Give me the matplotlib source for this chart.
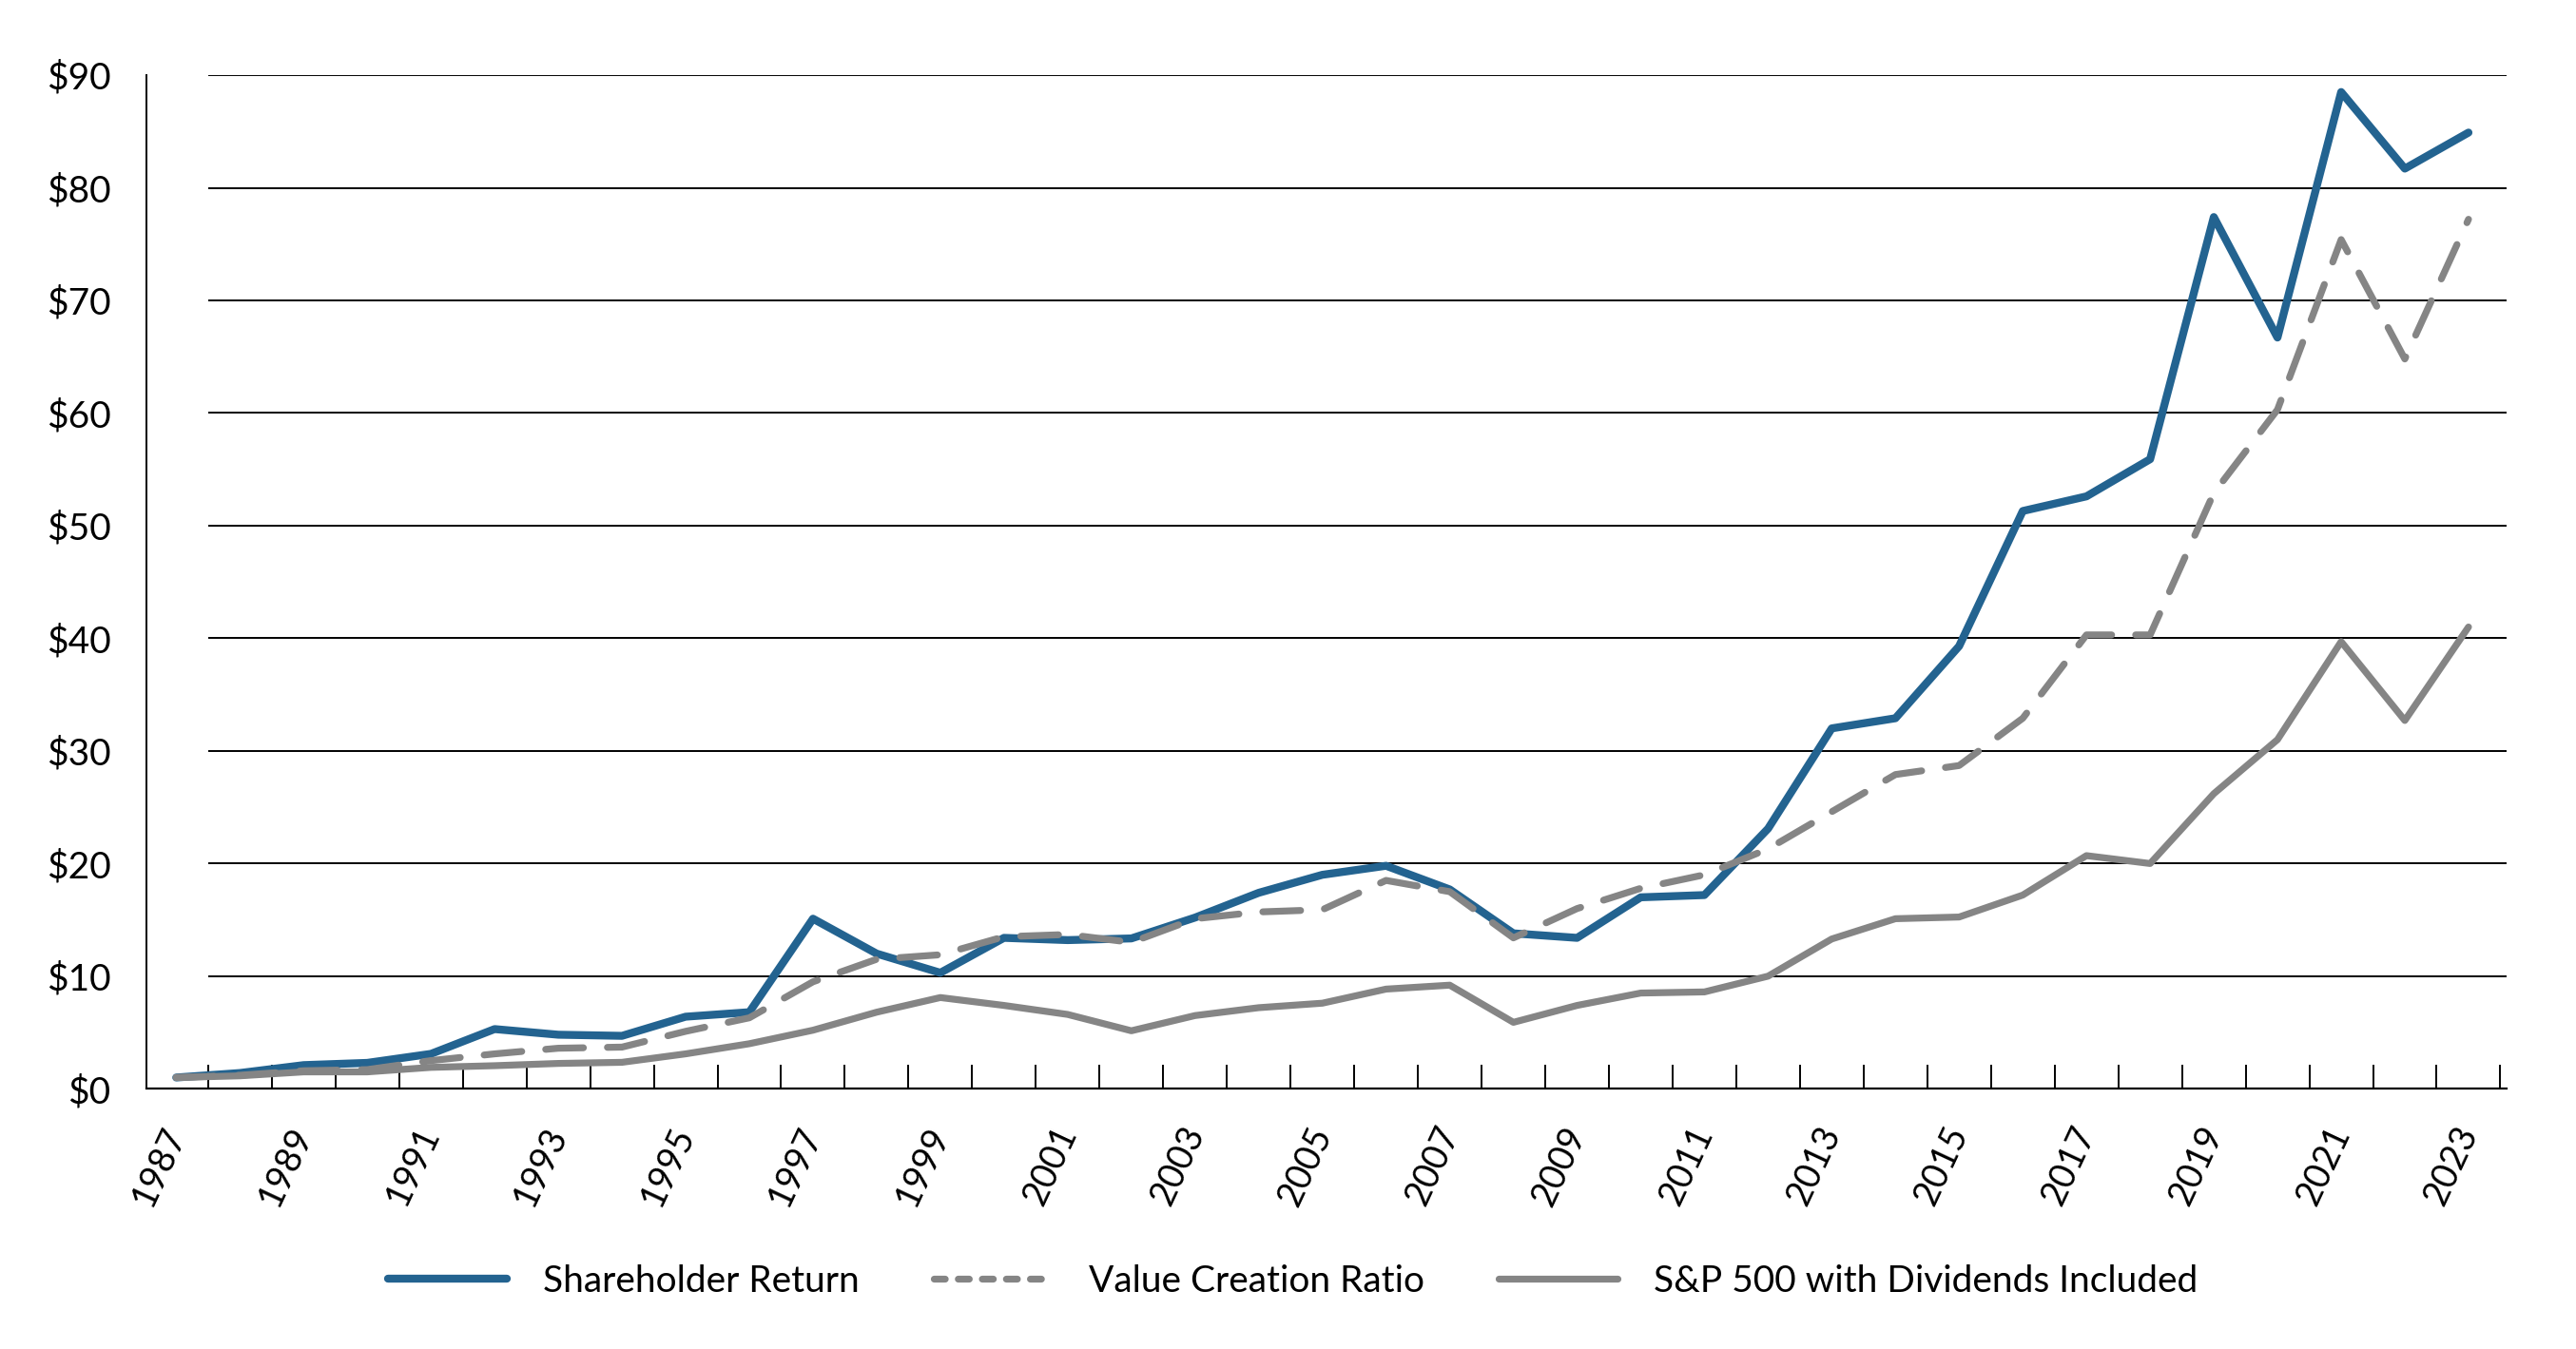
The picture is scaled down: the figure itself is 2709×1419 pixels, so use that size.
import matplotlib
matplotlib.use("Agg")
import matplotlib.pyplot as plt
from matplotlib.lines import Line2D

# --- data ---
years = list(range(1987, 2024))

shareholder_return = [1.0, 1.4, 2.1, 2.3, 3.1, 5.3, 4.8, 4.7, 6.4, 6.8,
                      15.1, 12.0, 10.3, 13.4, 13.2, 13.35, 15.2, 17.4, 19.0, 19.8,
                      17.7, 13.8, 13.4, 17.0, 17.2, 23.1, 32.0, 32.9, 39.3, 51.3,
                      52.6, 55.9, 77.4, 66.7, 88.5, 81.7, 84.9]

value_creation = [1.0, 1.2, 1.6, 1.7, 2.5, 3.1, 3.6, 3.7, 5.1, 6.3,
                  9.5, 11.5, 11.9, 13.5, 13.7, 13.0, 15.1, 15.7, 15.9, 18.5,
                  17.5, 13.4, 16.0, 17.8, 19.0, 21.3, 24.6, 27.9, 28.7, 32.9,
                  40.3, 40.3, 52.9, 60.3, 75.4, 64.8, 77.2]

sp500_div = [1.0, 1.15, 1.5, 1.5, 1.9, 2.05, 2.25, 2.35, 3.1, 4.0,
             5.2, 6.8, 8.1, 7.4, 6.6, 5.15, 6.5, 7.2, 7.6, 8.85,
             9.2, 5.9, 7.4, 8.5, 8.6, 10.0, 13.3, 15.1, 15.25, 17.2,
             20.7, 20.0, 26.2, 31.0, 39.7, 32.7, 41.0]

y_ticks = list(range(0, 100, 10))
y_labels = [f"${v}" for v in y_ticks]

labels = ["Shareholder Return", "Value Creation Ratio", "S&P 500 with Dividends Included"]

BLUE = "#236390"
GRAY = "#858585"

plt.rcParams["font.family"] = ["Lato", "DejaVu Sans"]

fig = plt.figure(figsize=(27.09, 14.19), dpi=100)
ax = fig.add_axes([0.0568, 0.1929, 0.9163, 0.7514])

x = list(range(len(years)))

ax.plot(x, shareholder_return, color=BLUE, lw=6.0,
        solid_capstyle="round", solid_joinstyle="round", zorder=3)
ax.plot(x, value_creation, color=GRAY, lw=5.2, dashes=(5.5, 3.5),
        dash_capstyle="round", dash_joinstyle="round", zorder=3)
ax.plot(x, sp500_div, color=GRAY, lw=5.2,
        solid_capstyle="round", solid_joinstyle="round", zorder=3)

xmin, xmax = -0.47, 36.6
ax.set_xlim(xmin, xmax)
ax.set_ylim(0, 90)

# horizontal gridlines start at the first category boundary
ax.hlines(y_ticks[1:], 0.5, xmax, color="black", lw=1.4, zorder=1)

# y axis
ax.set_yticks(y_ticks)
ax.set_yticklabels(y_labels)
ax.tick_params(axis="y", length=0, pad=27, labelsize=28)

# x axis: tick marks at category boundaries, labels at every other center
ax.set_xticks([i + 0.5 for i in x])
ax.set_xticklabels([])
ax.tick_params(axis="x", which="major", direction="in", length=18, width=1.4,
               color="black")
ax.set_xticks(x[::2], minor=True)
ax.set_xticklabels([str(y) for y in years[::2]], minor=True, rotation=65,
                   rotation_mode="anchor", ha="right", va="center")
ax.tick_params(axis="x", which="minor", length=0, pad=30, labelsize=27)

for side in ["top", "right"]:
    ax.spines[side].set_visible(False)
ax.spines["left"].set_linewidth(1.4)
ax.spines["bottom"].set_linewidth(1.6)

handles = [
    Line2D([], [], color=BLUE, lw=6.0, solid_capstyle="round"),
    Line2D([], [], color=GRAY, lw=5.2, dashes=(1.6, 1.9), dash_capstyle="round"),
    Line2D([], [], color=GRAY, lw=5.2, solid_capstyle="round"),
]
fig.legend(handles, labels, loc="center", bbox_to_anchor=(0.502, 0.05), ncol=3,
           frameon=False, fontsize=28, handlelength=3.2, handletextpad=1.0,
           columnspacing=2.0)

fig.savefig("out.png", dpi=100)
